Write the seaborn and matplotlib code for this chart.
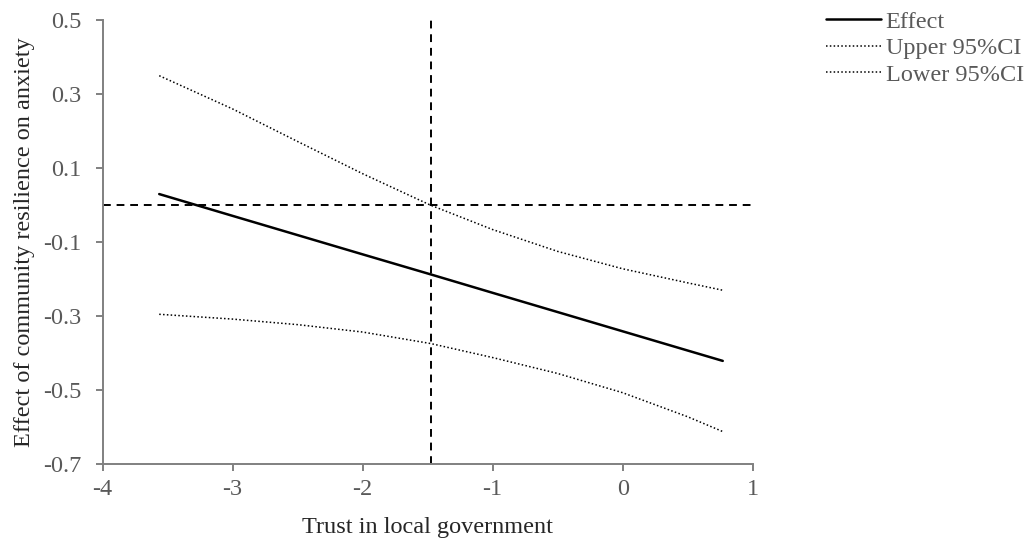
import numpy as np
import pandas as pd
import matplotlib
matplotlib.use('Agg')
import matplotlib.pyplot as plt
import seaborn as sns

# 데이터
trust = [-3.565, -3.0, -2.5, -2.0, -1.478, -1.0, -0.5, 0.0, 0.5, 0.77]
effect = [0.030, -0.029, -0.081, -0.133, -0.187, -0.237, -0.289, -0.341, -0.393, -0.421]
upper = [0.350, 0.260, 0.172, 0.085, 0.000, -0.066, -0.125, -0.172, -0.210, -0.230]
lower = [-0.295, -0.308, -0.323, -0.343, -0.374, -0.412, -0.455, -0.507, -0.572, -0.612]
jn_point = -1.478  # 유의성 경계

x_ticks = [-4, -3, -2, -1, 0, 1]
y_ticks = [-0.7, -0.5, -0.3, -0.1, 0.1, 0.3, 0.5]

df = pd.DataFrame({'trust': trust, 'Effect': effect,
                   'Upper 95%CI': upper, 'Lower 95%CI': lower})

sns.set_style('white')
plt.rcParams['font.family'] = ['Liberation Serif', 'DejaVu Serif']
fs = 17.5

fig = plt.figure(figsize=(10.34, 5.46), dpi=100)
ax = fig.add_axes([0.0993, 0.150, 0.6286, 0.813])

sns.lineplot(data=df, x='trust', y='Effect', ax=ax, color='black', lw=1.8, label='Effect')
sns.lineplot(data=df, x='trust', y='Upper 95%CI', ax=ax, color='black', lw=1.1,
             linestyle=(0, (1, 1.5)), label='Upper 95%CI')
sns.lineplot(data=df, x='trust', y='Lower 95%CI', ax=ax, color='black', lw=1.1,
             linestyle=(0, (1, 1.5)), label='Lower 95%CI')

ax.axhline(0, color='black', lw=1.4, linestyle=(0, (4, 3)))
ax.axvline(jn_point, color='black', lw=1.4, linestyle=(0, (4, 3)))

ax.set_xlim(-4, 1)
ax.set_ylim(-0.7, 0.5)
ax.set_xticks(x_ticks)
ax.set_yticks(y_ticks)
ax.set_xticklabels([str(t) for t in x_ticks])
ax.set_yticklabels([f'{t:.1f}' for t in y_ticks])

for side in ['top', 'right']:
    ax.spines[side].set_visible(False)
for side in ['left', 'bottom']:
    ax.spines[side].set_color('#808080')
    ax.spines[side].set_linewidth(1.4)
ax.tick_params(axis='both', direction='out', length=5, width=1.4, color='#808080',
               labelcolor='#595959', labelsize=fs, bottom=True, left=True)
ax.tick_params(axis='x', pad=6)
ax.tick_params(axis='y', pad=10)

ax.set_xlabel('Trust in local government', fontsize=fs, labelpad=12)
ax.set_ylabel('Effect of community resilience on anxiety', fontsize=fs, labelpad=6)

ax.legend_.remove()
h, l = ax.get_legend_handles_labels()
fig.legend(h, l, loc='upper left', bbox_to_anchor=(0.799, 0.98), frameon=False,
           borderpad=0, borderaxespad=0, fontsize=fs, handlelength=2.25,
           handletextpad=0.2, labelspacing=0.18, labelcolor='#595959')

plt.savefig('out.png', dpi=100)
